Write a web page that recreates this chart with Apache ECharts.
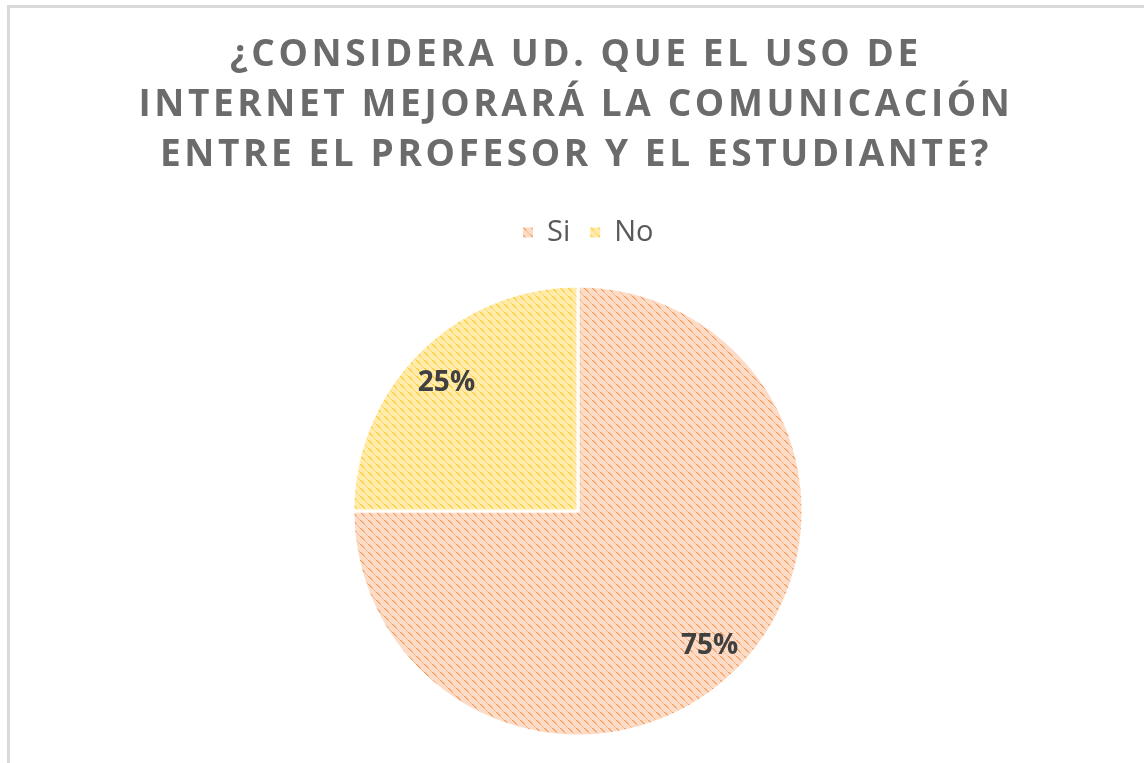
<!DOCTYPE html>
<html>
<head>
<meta charset="utf-8">
<script src="https://cdn.jsdelivr.net/npm/echarts@6/dist/echarts.min.js"></script>
<style>
  html, body { margin: 0; padding: 0; background: #fff; overflow: hidden; }
  #frame { position: absolute; left: 7px; top: 5px; width: 1200px; height: 820px; border: 3px solid #d9d9d9; box-sizing: border-box; }
  #title { position: absolute; left: 0; top: 27px; width: 1152px; text-align: center;
    font-family: "Open Sans", sans-serif; font-weight: bold; font-size: 37px; line-height: 50px;
    letter-spacing: 3.6px; color: #6b6b6b; }
  #chart { position: absolute; left: 0; top: 0; width: 1144px; height: 763px; }
</style>
</head>
<body>
<div id="frame"></div>
<div id="chart"></div>
<div id="title">¿CONSIDERA UD. QUE EL USO DE<br>INTERNET MEJORARÁ LA COMUNICACIÓN<br>ENTRE EL PROFESOR Y EL ESTUDIANTE?</div>
<script>
// Data
const categories = ['Si', 'No'];
const values = [75, 25];
const labels = ['75%', '25%'];

// Excel-like "dashed downward diagonal" fill
function makePattern(base, mid, dot) {
  const c = document.createElement('canvas');
  c.width = 8; c.height = 8;
  const ctx = c.getContext('2d');
  ctx.fillStyle = base;
  ctx.fillRect(0, 0, 8, 8);
  for (let i = 0; i < 8; i++) {
    if (i < 4) {
      ctx.fillStyle = dot;
      ctx.fillRect(i, i, 1, 1);
      ctx.fillStyle = mid;
      ctx.fillRect((i + 1) % 8, i, 1, 1);
    } else {
      ctx.fillStyle = mid;
      ctx.fillRect(i, i, 1, 1);
    }
  }
  return { image: c, repeat: 'repeat' };
}

const fills = [
  makePattern('#fcdcc6', '#f7b88c', '#f29a5c'),
  makePattern('#ffecad', '#ffd760', '#ffc928'),
];

const chart = echarts.init(document.getElementById('chart'), null, { renderer: 'canvas' });
chart.setOption({
  animation: false,
  legend: {
    top: 213,
    left: 516,
    icon: 'rect',
    itemWidth: 12,
    itemHeight: 12,
    itemGap: 18,
    textStyle: { fontSize: 29, color: '#595959', fontFamily: '"Open Sans", sans-serif', padding: [0, 0, 0, 8] },
    data: categories,
  },
  series: [
    {
      type: 'pie',
      center: [578, 511],
      radius: 225,
      startAngle: 90,
      clockwise: true,
      label: { show: false },
      labelLine: { show: false },
      itemStyle: { borderColor: '#fff', borderWidth: 3 },
      data: categories.map((n, i) => ({ name: n, value: values[i], itemStyle: { color: fills[i] } })),
    },
    {
      type: 'pie',
      center: [578, 515],
      radius: [130, 236],
      startAngle: 90,
      clockwise: true,
      silent: true,
      legendHoverLink: false,
      itemStyle: { color: 'transparent' },
      label: {
        show: true, position: 'inside',
        formatter: p => labels[p.dataIndex],
        fontSize: 28, fontWeight: 'bold', color: '#404040',
        fontFamily: '"Open Sans", sans-serif',
      },
      labelLine: { show: false },
      data: categories.map((n, i) => ({ name: n + ' ', value: values[i] })),
    },
  ],
});
</script>
</body>
</html>
